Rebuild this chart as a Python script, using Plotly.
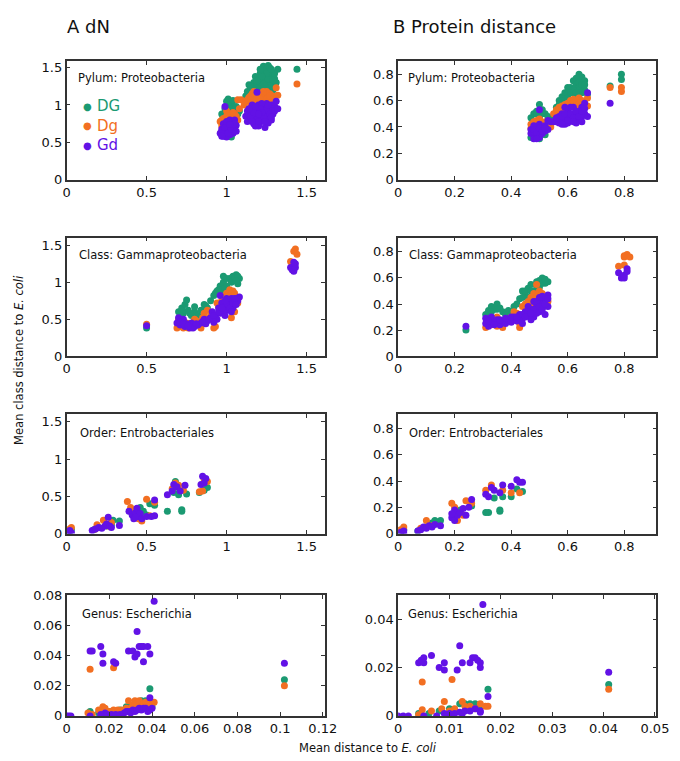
import plotly.graph_objects as go

# ---------------- DATA ----------------
series_names = ["DG", "Dg", "Gd"]
series_colors = ["#1b9a72", "#f26f22", "#6212e6"]

panel_labels = ["Pylum: Proteobacteria", "Pylum: Proteobacteria",
                "Class: Gammaproteobacteria", "Class: Gammaproteobacteria",
                "Order: Entrobacteriales", "Order: Entrobacteriales",
                "Genus: Escherichia", "Genus: Escherichia"]

# A1: dN, Phylum
A1_DG = [(0.97,0.6),(1.03,0.57),(0.98,0.62),(1.0,0.9),(1.01,0.95),(1.02,1.0),(1.0,1.05),(1.01,1.08),(1.03,1.02),
         (1.04,0.98),(1.05,0.95),(1.06,0.92),(1.03,0.9),(1.07,0.88),(1.02,0.85),(0.99,0.85),(1.05,0.85),(1.08,0.92),
         (0.97,0.88),(1.04,1.06),(1.01,1.0),(1.03,0.95),(0.99,0.95),(1.06,0.98),
         (1.12,1.12),(1.13,1.18),(1.15,1.22),(1.14,1.27),(1.17,1.3),(1.19,1.28),(1.2,1.35),(1.18,1.38),(1.21,1.42),
         (1.22,1.45),(1.23,1.52),(1.25,1.48),(1.26,1.53),(1.27,1.5),(1.28,1.45),(1.29,1.4),(1.27,1.38),(1.24,1.38),
         (1.22,1.32),(1.25,1.3),(1.28,1.3),(1.3,1.35),(1.32,1.48),(1.3,1.25),(1.26,1.22),(1.23,1.22),(1.2,1.2),
         (1.16,1.16),(1.29,1.2),(1.31,1.3),(1.24,1.43),(1.27,1.42),(1.18,1.25),(1.21,1.25),(1.23,1.28),(1.26,1.35),
         (1.29,1.33),(1.25,1.42),(1.22,1.38),(1.19,1.32),(1.15,1.25),(1.27,1.25),(1.3,1.42),(1.24,1.25),(1.28,1.48),
         (1.21,1.48),(1.44,1.48)]
A1_Dg = [(0.96,0.78),(0.97,0.72),(0.98,0.82),(1.0,0.85),(1.02,0.8),(1.04,0.83),(1.05,0.88),(1.06,0.85),(1.07,0.8),
         (0.99,0.75),(1.03,0.77),(1.0,0.92),(1.08,0.95),(1.07,1.07),(1.09,1.07),(0.97,0.8),(1.01,0.88),(1.04,0.9),
         (1.06,0.82),
         (1.11,1.0),(1.12,1.05),(1.14,1.1),(1.16,1.15),(1.18,1.12),(1.2,1.1),(1.22,1.15),(1.24,1.12),(1.26,1.1),
         (1.28,1.08),(1.3,1.05),(1.27,1.15),(1.19,1.05),(1.23,1.05),(1.15,1.02),(1.29,1.12),(1.31,1.23),(1.32,1.13),
         (1.17,1.18),(1.25,1.18),(1.3,0.98),(1.13,1.07),(1.17,1.08),(1.21,1.08),(1.25,1.08),(1.29,1.05),(1.15,1.12),
         (1.23,1.18),(1.27,1.12),(1.44,1.28)]
A1_Gd = [(0.96,0.62),(0.97,0.68),(0.98,0.58),(0.99,0.64),(1.0,0.7),(1.01,0.75),(1.02,0.8),(1.03,0.72),(1.04,0.78),
         (1.05,0.68),(1.06,0.73),(1.04,0.62),(1.02,0.6),(1.0,0.57),(0.98,0.75),(1.03,0.65),(1.05,0.8),(1.01,0.66),
         (0.97,0.65),(0.99,0.7),(1.01,0.62),(1.03,0.68),(1.05,0.75),(1.0,0.78),(0.97,0.58),(1.06,0.65),(1.02,0.74),
         (0.99,0.98),
         (1.12,0.85),(1.13,0.92),(1.14,0.8),(1.15,0.95),(1.16,0.88),(1.17,0.75),(1.18,0.82),(1.19,0.92),(1.2,1.0),
         (1.21,0.86),(1.22,0.78),(1.23,0.95),(1.24,0.9),(1.25,1.02),(1.26,0.84),(1.27,0.95),(1.28,1.0),(1.29,0.88),
         (1.3,0.98),(1.31,1.05),(1.2,0.72),(1.24,0.7),(1.28,0.8),(1.16,1.0),(1.22,1.02),(1.18,0.72),(1.26,0.76),
         (1.14,0.87),(1.25,0.85),(1.13,0.78),(1.15,0.85),(1.17,0.9),(1.19,0.8),(1.21,0.95),(1.23,0.85),(1.25,0.93),
         (1.27,0.88),(1.29,0.95),(1.22,0.9),(1.18,0.98),(1.26,1.0),(1.3,0.92),(1.2,0.78),(1.24,0.78),(1.16,0.78),
         (1.28,0.84),(1.32,0.95),(1.14,0.95),(1.2,0.88),(1.19,1.17)]

# B1: protein distance, Phylum
B1_DG = [(0.47,0.32),(0.48,0.5),(0.49,0.52),(0.5,0.57),(0.51,0.53),(0.52,0.5),(0.53,0.48),(0.5,0.47),(0.47,0.47),
         (0.54,0.46),(0.48,0.33),(0.5,0.31),(0.52,0.34),(0.55,0.48),(0.49,0.5),(0.51,0.5),
         (0.56,0.55),(0.57,0.6),(0.58,0.63),(0.59,0.66),(0.6,0.65),(0.61,0.7),(0.62,0.75),(0.63,0.72),(0.64,0.8),
         (0.65,0.78),(0.66,0.75),(0.64,0.7),(0.66,0.68),(0.62,0.66),(0.6,0.7),(0.67,0.65),(0.58,0.58),(0.63,0.77),
         (0.65,0.66),(0.61,0.6),(0.63,0.62),(0.58,0.6),(0.6,0.62),(0.62,0.68),(0.64,0.74),(0.65,0.72),(0.61,0.66),
         (0.63,0.66),(0.66,0.72),(0.57,0.57),(0.79,0.8),(0.79,0.76),(0.75,0.71)]
B1_Dg = [(0.47,0.42),(0.48,0.44),(0.49,0.45),(0.5,0.46),(0.51,0.43),(0.52,0.44),(0.53,0.42),(0.54,0.4),(0.47,0.39),
         (0.48,0.42),(0.5,0.44),(0.52,0.42),
         (0.55,0.5),(0.56,0.53),(0.57,0.55),(0.58,0.56),(0.59,0.57),(0.6,0.58),(0.61,0.6),(0.62,0.61),(0.63,0.6),
         (0.64,0.62),(0.65,0.6),(0.66,0.58),(0.67,0.56),(0.67,0.62),(0.6,0.54),(0.63,0.56),(0.57,0.5),(0.56,0.5),
         (0.58,0.53),(0.6,0.56),(0.62,0.58),(0.64,0.58),(0.66,0.56),
         (0.75,0.7),(0.79,0.7),(0.79,0.67)]
B1_Gd = [(0.47,0.35),(0.47,0.38),(0.48,0.31),(0.48,0.36),(0.49,0.4),(0.49,0.33),(0.5,0.37),(0.5,0.42),(0.51,0.35),
         (0.51,0.39),(0.52,0.37),(0.52,0.41),(0.53,0.38),(0.48,0.41),(0.5,0.32),(0.54,0.44),(0.55,0.44),
         (0.53,0.45),(0.48,0.38),(0.49,0.36),(0.5,0.39),(0.51,0.37),(0.49,0.31),(0.52,0.39),(0.5,0.53),
         (0.56,0.44),(0.57,0.48),(0.58,0.45),(0.58,0.5),(0.59,0.42),(0.6,0.47),(0.6,0.52),(0.61,0.45),(0.62,0.5),
         (0.62,0.55),(0.63,0.47),(0.64,0.52),(0.65,0.55),(0.66,0.5),(0.66,0.58),(0.64,0.45),(0.61,0.55),(0.59,0.55),
         (0.57,0.43),(0.63,0.43),(0.65,0.48),(0.67,0.48),(0.65,0.44),(0.6,0.43),(0.57,0.46),(0.58,0.48),
         (0.59,0.5),(0.6,0.45),(0.61,0.5),(0.62,0.47),(0.63,0.52),(0.64,0.48),(0.65,0.52),(0.66,0.54),(0.62,0.44),
         (0.58,0.42),(0.56,0.47),(0.67,0.66),(0.75,0.58)]

# A2: dN, Class
A2_DG = [(0.5,0.38),(0.7,0.6),(0.72,0.65),(0.74,0.7),(0.73,0.58),(0.76,0.62),(0.78,0.55),(0.8,0.6),(0.82,0.55),
         (0.84,0.62),(0.86,0.7),(0.88,0.65),(0.9,0.75),(0.92,0.82),(0.94,0.88),(0.96,0.95),(0.98,1.0),(1.0,0.95),
         (1.02,1.05),(1.04,1.08),(1.06,1.1),(1.08,1.05),(1.07,0.98),(1.05,1.02),(1.0,1.05),(0.97,0.9),(0.71,0.55),
         (0.75,0.76),(0.8,0.67),(0.98,1.08),(0.72,0.62),(0.77,0.58),(0.93,0.85),(0.95,0.9),(1.03,1.0),(1.05,1.05),
         (1.07,1.08),(1.06,1.02),(0.99,0.92),(0.87,0.68)]
A2_Dg = [(0.5,0.43),(0.69,0.38),(0.71,0.4),(0.73,0.38),(0.75,0.45),(0.78,0.42),(0.8,0.5),(0.83,0.45),(0.86,0.58),
         (0.88,0.62),(0.9,0.55),(0.92,0.38),(0.93,0.4),(0.95,0.68),(0.97,0.75),(0.99,0.72),(1.0,0.85),(1.02,0.9),
         (1.04,0.88),(1.06,0.8),(1.07,0.72),(1.05,0.6),(1.03,0.52),(1.01,0.65),(0.88,0.5),(0.7,0.5),(0.76,0.38),
         (0.84,0.38),(0.94,0.72),(0.98,0.8),(1.0,0.8),(1.03,0.85),(1.05,0.85),(0.96,0.7),(0.81,0.48),(0.85,0.52),
         (1.07,0.78),(1.42,1.42),(1.43,1.45),(1.44,1.38),(1.4,1.28),(1.41,1.25)]
A2_Gd = [(0.5,0.41),(0.69,0.45),(0.7,0.52),(0.71,0.42),(0.72,0.48),(0.74,0.4),(0.75,0.44),(0.77,0.38),(0.78,0.45),
         (0.8,0.4),(0.82,0.42),(0.84,0.45),(0.86,0.5),(0.88,0.48),(0.9,0.52),(0.91,0.6),(0.93,0.55),(0.95,0.65),
         (0.96,0.58),(0.97,0.72),(0.98,0.68),(1.0,0.62),(1.01,0.75),(1.02,0.7),(1.03,0.78),(1.04,0.65),(1.05,0.72),
         (1.06,0.78),(1.07,0.75),(1.08,0.8),(0.99,0.55),(0.94,0.5),(1.0,0.78),(0.96,0.82),(0.73,0.5),(0.79,0.38),
         (0.87,0.44),(0.92,0.46),(0.71,0.46),(0.73,0.44),(0.76,0.41),(0.81,0.44),(0.85,0.47),(0.89,0.5),(0.92,0.55),
         (0.95,0.6),(0.98,0.62),(1.0,0.7),(1.02,0.65),(1.04,0.72),(1.06,0.7),(1.03,0.6),(0.97,0.65),(1.05,0.78),
         (0.99,0.75),
         (1.4,1.2),(1.41,1.17),(1.42,1.15),(1.43,1.2),(1.43,1.25),(1.42,1.27)]

# B2: protein distance, Class
B2_DG = [(0.24,0.2),(0.31,0.32),(0.32,0.35),(0.33,0.38),(0.34,0.36),(0.35,0.4),(0.36,0.37),(0.37,0.34),(0.39,0.35),
         (0.41,0.38),(0.42,0.4),(0.43,0.44),(0.44,0.5),(0.45,0.47),(0.46,0.52),(0.47,0.55),(0.48,0.5),(0.49,0.57),
         (0.5,0.58),(0.51,0.6),(0.52,0.56),(0.53,0.57),(0.5,0.53),(0.38,0.32),(0.4,0.32),(0.44,0.45),(0.33,0.34),
         (0.35,0.36),(0.45,0.5),(0.47,0.5),(0.49,0.54),(0.51,0.56),(0.52,0.59),(0.46,0.45)]
B2_Dg = [(0.31,0.22),(0.33,0.24),(0.35,0.23),(0.37,0.22),(0.38,0.27),(0.4,0.3),(0.41,0.34),(0.42,0.33),(0.43,0.25),
         (0.43,0.22),(0.44,0.38),(0.45,0.4),(0.46,0.42),(0.47,0.45),(0.48,0.48),(0.49,0.46),(0.5,0.5),(0.51,0.48),
         (0.52,0.45),(0.53,0.42),(0.35,0.3),(0.47,0.32),(0.49,0.55),(0.45,0.37),(0.47,0.4),(0.49,0.43),(0.51,0.44),
         (0.46,0.36),(0.48,0.39),
         (0.8,0.77),(0.81,0.78),(0.8,0.76),(0.82,0.76),(0.78,0.69),(0.8,0.7)]
B2_Gd = [(0.24,0.23),(0.31,0.25),(0.31,0.29),(0.32,0.23),(0.33,0.3),(0.34,0.26),(0.35,0.28),(0.36,0.24),(0.37,0.27),
         (0.38,0.25),(0.39,0.28),(0.4,0.26),(0.41,0.3),(0.42,0.27),(0.43,0.32),(0.44,0.29),(0.45,0.34),(0.46,0.31),
         (0.47,0.36),(0.48,0.3),(0.49,0.38),(0.5,0.34),(0.5,0.42),(0.51,0.4),(0.52,0.44),(0.53,0.38),(0.52,0.32),
         (0.49,0.33),(0.47,0.28),(0.44,0.25),(0.48,0.42),(0.51,0.46),(0.53,0.47),(0.46,0.38),(0.32,0.27),(0.34,0.24),
         (0.36,0.28),(0.38,0.29),(0.4,0.3),(0.42,0.3),(0.44,0.32),(0.46,0.34),(0.48,0.36),(0.49,0.42),(0.5,0.38),
         (0.51,0.36),(0.52,0.4),(0.53,0.44),(0.45,0.3),(0.47,0.33),(0.5,0.45),
         (0.78,0.64),(0.79,0.6),(0.8,0.62),(0.81,0.67),(0.8,0.6),(0.81,0.65)]

# A3: dN, Order
A3_DG = [(0.02,0.02),(0.03,0.05),(0.17,0.05),(0.2,0.08),(0.25,0.1),(0.28,0.12),(0.29,0.18),(0.33,0.17),(0.4,0.3),
         (0.44,0.32),(0.46,0.35),(0.48,0.3),(0.5,0.25),(0.52,0.4),(0.55,0.38),(0.63,0.3),(0.67,0.55),(0.7,0.52),
         (0.72,0.32),(0.72,0.3),(0.75,0.53),(0.83,0.55),(0.86,0.58),(0.88,0.62),(0.68,0.7)]
A3_Dg = [(0.02,0.06),(0.03,0.08),(0.18,0.06),(0.19,0.12),(0.23,0.18),(0.26,0.1),(0.28,0.15),(0.38,0.43),(0.42,0.3),
         (0.45,0.2),(0.47,0.17),(0.5,0.46),(0.52,0.24),(0.55,0.42),(0.66,0.6),(0.68,0.68),(0.7,0.65),(0.73,0.58),
         (0.83,0.56),(0.85,0.57),(0.86,0.73),(0.88,0.7),(0.4,0.35)]
A3_Gd = [(0.01,0.02),(0.02,0.04),(0.03,0.01),(0.16,0.04),(0.18,0.06),(0.2,0.08),(0.22,0.07),(0.24,0.1),(0.25,0.13),
         (0.26,0.22),(0.27,0.1),(0.28,0.08),(0.33,0.11),(0.39,0.3),(0.41,0.25),(0.42,0.2),(0.43,0.28),(0.44,0.34),
         (0.45,0.23),(0.46,0.27),(0.47,0.2),(0.43,0.22),(0.5,0.23),(0.53,0.23),(0.55,0.45),(0.55,0.24),(0.63,0.52),
         (0.66,0.57),(0.67,0.66),(0.69,0.63),(0.71,0.57),(0.74,0.65),(0.84,0.66),(0.85,0.77),(0.87,0.74),(0.86,0.68)]

# B3: protein distance, Order
B3_DG = [(0.01,0.01),(0.02,0.03),(0.07,0.02),(0.1,0.05),(0.12,0.08),(0.13,0.1),(0.15,0.1),(0.2,0.15),(0.22,0.18),
         (0.26,0.21),(0.31,0.16),(0.32,0.16),(0.34,0.27),(0.36,0.17),(0.36,0.18),(0.37,0.28),(0.4,0.28),(0.42,0.34),
         (0.44,0.32)]
B3_Dg = [(0.01,0.03),(0.02,0.05),(0.08,0.04),(0.1,0.1),(0.12,0.06),(0.19,0.23),(0.2,0.2),(0.21,0.1),(0.24,0.25),
         (0.26,0.23),(0.31,0.33),(0.33,0.37),(0.37,0.33),(0.4,0.31),(0.43,0.31),(0.23,0.14)]
B3_Gd = [(0.01,0.01),(0.02,0.02),(0.02,0.0),(0.07,0.02),(0.08,0.03),(0.09,0.05),(0.1,0.04),(0.11,0.06),(0.12,0.05),
         (0.13,0.07),(0.15,0.06),(0.19,0.12),(0.2,0.1),(0.2,0.18),(0.21,0.14),(0.22,0.16),(0.23,0.19),(0.24,0.14),
         (0.25,0.2),(0.26,0.26),(0.19,0.15),(0.31,0.3),(0.32,0.28),(0.33,0.35),(0.34,0.33),(0.36,0.31),(0.37,0.37),
         (0.4,0.36),(0.42,0.41),(0.43,0.39),(0.44,0.39)]

# A4: dN, Genus
A4_DG = [(0.102,0.024),(0.011,0.003),(0.015,0.002),(0.02,0.003),(0.025,0.004),(0.028,0.006),(0.03,0.007),
         (0.033,0.009),(0.035,0.01),(0.037,0.01),(0.039,0.018),(0.04,0.006)]
A4_Dg = [(0.011,0.031),(0.022,0.032),(0.102,0.02),(0.01,0.002),(0.012,0.001),(0.015,0.004),(0.017,0.006),
         (0.018,0.005),(0.02,0.003),(0.022,0.004),(0.024,0.004),(0.026,0.004),(0.028,0.005),(0.029,0.01),
         (0.031,0.007),(0.032,0.01),(0.033,0.008),(0.034,0.01),(0.035,0.007),(0.036,0.008),(0.037,0.009),
         (0.038,0.008),(0.039,0.009),(0.041,0.009),(0.03,0.005)]
A4_Gd = [(0.011,0.043),(0.012,0.043),(0.016,0.046),(0.017,0.041),(0.017,0.035),(0.022,0.036),(0.023,0.035),
         (0.029,0.043),(0.031,0.043),(0.032,0.039),(0.033,0.041),(0.033,0.056),(0.034,0.046),(0.035,0.046),
         (0.036,0.036),(0.036,0.046),(0.038,0.046),(0.039,0.041),(0.041,0.076),(0.102,0.035),
         (0.0,0.0),(0.001,0.0),(0.002,0.0),(0.011,0.0),(0.016,0.001),(0.018,0.002),(0.019,0.001),(0.02,0.0),
         (0.021,0.001),(0.023,0.001),(0.025,0.001),(0.027,0.002),(0.028,0.003),(0.029,0.003),(0.03,0.002),
         (0.031,0.004),(0.032,0.003),(0.033,0.004),(0.034,0.005),(0.035,0.004),(0.036,0.005),(0.037,0.005),
         (0.038,0.003),(0.039,0.012),(0.039,0.004),(0.04,0.005)]

# B4: protein distance, Genus
B4_DG = [(0.041,0.013),(0.0175,0.011),(0.004,0.001),(0.006,0.001),(0.008,0.002),(0.01,0.003),(0.012,0.005),
         (0.013,0.005),(0.014,0.005),(0.015,0.005),(0.016,0.004)]
B4_Dg = [(0.0047,0.014),(0.0105,0.015),(0.041,0.011),(0.004,0.0005),(0.0047,0.0025),(0.0065,0.002),(0.0085,0.003),
         (0.009,0.006),(0.01,0.002),(0.011,0.003),(0.0125,0.006),(0.013,0.004),(0.014,0.004),(0.015,0.003),
         (0.016,0.005),(0.017,0.004),(0.0175,0.004)]
B4_Gd = [(0.004,0.022),(0.0045,0.023),(0.005,0.024),(0.005,0.022),(0.0065,0.025),(0.008,0.02),(0.009,0.019),
         (0.009,0.022),(0.0115,0.019),(0.012,0.029),(0.0125,0.022),(0.014,0.022),(0.0145,0.024),(0.015,0.024),
         (0.0155,0.023),(0.016,0.02),(0.016,0.022),(0.0165,0.046),(0.041,0.018),
         (0.0,0.0),(0.001,0.0),(0.002,0.0),(0.005,0.0),(0.0075,0.0),(0.009,0.001),(0.0095,0.0005),(0.01,0.001),
         (0.011,0.001),(0.012,0.0015),(0.0125,0.001),(0.013,0.002),(0.014,0.002),(0.015,0.003),(0.016,0.002),
         (0.0175,0.008),(0.016,0.0015)]

panel_data = [(A1_DG, A1_Dg, A1_Gd), (B1_DG, B1_Dg, B1_Gd),
              (A2_DG, A2_Dg, A2_Gd), (B2_DG, B2_Dg, B2_Gd),
              (A3_DG, A3_Dg, A3_Gd), (B3_DG, B3_Dg, B3_Gd),
              (A4_DG, A4_Dg, A4_Gd), (B4_DG, B4_Dg, B4_Gd)]

A_ticks = [0, 0.5, 1, 1.5]
B_ticks = [0, 0.2, 0.4, 0.6, 0.8]
A4_xticks = [0, 0.02, 0.04, 0.06, 0.08, 0.1, 0.12]
A4_yticks = [0, 0.02, 0.04, 0.06, 0.08]
B4_xticks = [0, 0.01, 0.02, 0.03, 0.04, 0.05]
B4_yticks = [0, 0.02, 0.04]

# ---------------- LAYOUT ----------------
W, H = 680, 761
col_px = [(56, 321), (396, 661)]
row_px = [(47, 168), (227, 348), (407, 529), (592, 715)]
x_ranges = [[0, 1.615], [0, 0.914]] * 3 + [[0, 0.121], [0, 0.0503]]
y_ranges = [[0, 1.588], [0, 0.9], [0, 1.605], [0, 0.91], [0, 1.605], [0, 0.91], [0, 0.08], [0, 0.0498]]
x_ticks = [A_ticks, B_ticks] * 3 + [A4_xticks, B4_xticks]
y_ticks = [A_ticks, B_ticks] * 3 + [A4_yticks, B4_yticks]
label_pos = [(0.038, 0.86), (0.03, 0.86), (0.04, 0.85), (0.034, 0.85),
             (0.045, 0.844), (0.036, 0.844), (0.05, 0.845), (0.03, 0.845)]

FONT = "DejaVu Sans"
AX = "#333333"

fig = go.Figure()
layout = dict(width=W, height=H, margin=dict(l=0, r=0, t=0, b=0),
              paper_bgcolor="white", plot_bgcolor="white", showlegend=False,
              font=dict(family=FONT, size=12, color="#111"))
annotations = []

for i, data in enumerate(panel_data):
    r, c = divmod(i, 2)
    xn = "x" if i == 0 else f"x{i+1}"
    yn = "y" if i == 0 else f"y{i+1}"
    for s, pts in enumerate(data):
        fig.add_trace(go.Scatter(
            x=[p[0] for p in pts], y=[p[1] for p in pts], mode="markers",
            name=series_names[s], xaxis=xn, yaxis=yn,
            marker=dict(size=7, color=series_colors[s], line=dict(width=0)),
            hoverinfo="x+y+name"))
    x0, x1 = col_px[c]
    y0, y1 = row_px[r]
    common = dict(showline=True, linecolor=AX, linewidth=1.5, mirror="ticks",
                  ticks="inside", ticklen=4, tickwidth=1.2, tickcolor=AX,
                  showgrid=False, zeroline=False, tickfont=dict(family=FONT, size=13, color="#111"))
    layout["xaxis" if i == 0 else f"xaxis{i+1}"] = dict(
        common, domain=[x0 / W, x1 / W], range=x_ranges[i], tickvals=x_ticks[i],
        ticktext=[f"{v:g}" for v in x_ticks[i]], anchor=yn)
    layout["yaxis" if i == 0 else f"yaxis{i+1}"] = dict(
        common, domain=[1 - y1 / H, 1 - y0 / H], range=y_ranges[i], tickvals=y_ticks[i],
        ticktext=[f"{v:g}" for v in y_ticks[i]], anchor=xn)
    lx, ly = label_pos[i]
    annotations.append(dict(text=panel_labels[i], xref=f"{xn} domain", yref=f"{yn} domain",
                            x=lx, y=ly, xanchor="left", yanchor="middle", showarrow=False,
                            font=dict(family=FONT, size=11.5, color="#111")))

# legend in first panel (coloured text)
legend_y = [0.98, 0.72, 0.46]
for s in range(3):
    annotations.append(dict(text="●", xref="x", yref="y", x=0.128, y=legend_y[s],
                            xanchor="center", yanchor="middle", showarrow=False,
                            font=dict(family=FONT, size=10, color=series_colors[s])))
    annotations.append(dict(text=series_names[s], xref="x", yref="y", x=0.18, y=legend_y[s],
                            xanchor="left", yanchor="middle", showarrow=False,
                            font=dict(family=FONT, size=15, color=series_colors[s])))

# column titles
annotations.append(dict(text="A dN", xref="paper", yref="paper", x=54 / W, y=1 - 12 / H,
                        xanchor="left", yanchor="middle", showarrow=False,
                        font=dict(family=FONT, size=18, color="#111")))
annotations.append(dict(text="B Protein distance", xref="paper", yref="paper", x=389 / W, y=1 - 12 / H,
                        xanchor="left", yanchor="middle", showarrow=False,
                        font=dict(family=FONT, size=18, color="#111")))
# axis titles
annotations.append(dict(text="Mean class distance to <i>E. coli</i>", xref="paper", yref="paper",
                        x=7 / W, y=1 - 352 / H, textangle=-90, xanchor="center", yanchor="middle",
                        showarrow=False, font=dict(family=FONT, size=11.5, color="#111")))
annotations.append(dict(text="Mean distance to <i>E. coli</i>", xref="paper", yref="paper",
                        x=365 / W, y=1 - 748 / H, xanchor="center", yanchor="middle",
                        showarrow=False, font=dict(family=FONT, size=11.5, color="#111")))

layout["annotations"] = annotations
fig.update_layout(**layout)
fig.write_html("out.html")
